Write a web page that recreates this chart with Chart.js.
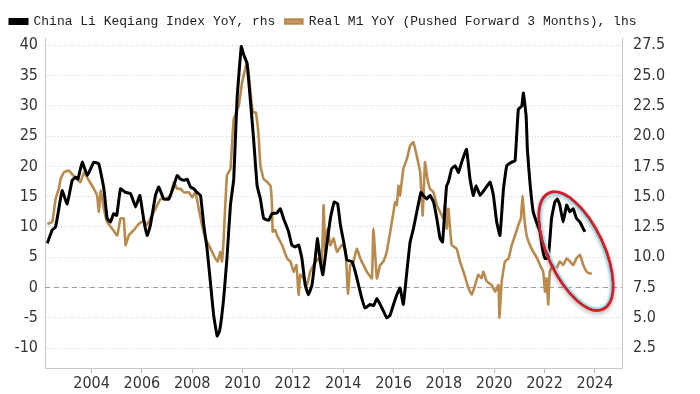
<!DOCTYPE html>
<html>
<head>
<meta charset="utf-8">
<script src="https://cdn.jsdelivr.net/npm/chart.js"></script>
<style>
  html, body { margin: 0; padding: 0; background: #fff; }
  #wrap { width: 700px; height: 394px; position: relative; }
</style>
</head>
<body>
<div id="wrap"><canvas id="myChart"></canvas></div>
<script>
// Li Keqiang index (rhs)
const liDates = [2002.24,2002.44,2002.57,2002.70,2002.83,2003.03,2003.23,2003.37,2003.46,2003.63,2003.83,2004.09,2004.29,2004.49,2004.62,2004.75,2004.88,2005.00,2005.15,2005.35,2005.55,2005.75,2005.92,2006.08,2006.21,2006.34,2006.54,2006.67,2006.87,2007.07,2007.27,2007.40,2007.53,2007.67,2007.80,2007.93,2008.06,2008.19,2008.33,2008.46,2008.59,2008.72,2008.85,2008.99,2009.09,2009.25,2009.38,2009.52,2009.65,2009.78,2009.95,2010.04,2010.18,2010.31,2010.44,2010.58,2010.71,2010.84,2011.04,2011.17,2011.37,2011.50,2011.63,2011.83,2011.96,2012.10,2012.23,2012.36,2012.49,2012.62,2012.76,2012.89,2012.98,2013.09,2013.19,2013.33,2013.49,2013.64,2013.78,2013.89,2014.02,2014.15,2014.35,2014.48,2014.61,2014.74,2014.87,2015.07,2015.21,2015.34,2015.47,2015.60,2015.73,2015.86,2016.00,2016.13,2016.26,2016.39,2016.53,2016.66,2016.79,2016.95,2017.09,2017.19,2017.32,2017.45,2017.59,2017.72,2017.85,2017.95,2018.05,2018.11,2018.18,2018.31,2018.45,2018.58,2018.71,2018.90,2019.04,2019.17,2019.28,2019.44,2019.64,2019.84,2019.97,2020.10,2020.23,2020.37,2020.50,2020.70,2020.83,2020.96,2021.10,2021.16,2021.27,2021.32,2021.42,2021.55,2021.68,2021.82,2021.92,2022.02,2022.15,2022.28,2022.41,2022.51,2022.61,2022.74,2022.88,2023.01,2023.14,2023.27,2023.41,2023.54,2023.61]
const liValues = [11.15,12.25,12.5,14,15.5,14.4,16.35,16.6,16.45,17.85,16.75,17.85,17.7,15.65,13.2,12.9,13.6,13.45,15.65,15.35,15.25,14.15,15.1,13,11.8,12.65,15.1,15.8,14.8,14.8,15.9,16.75,16.45,16.35,16.45,15.8,15.65,15.35,15.1,12.65,10.7,8.0,5.25,3.5,3.9,6.6,9.9,14.3,16.45,23,27.4,26.75,26,23,19.75,15.9,14.8,13.2,13.05,13.6,13.65,14,13.2,12.1,11,10.85,11,9.9,7.7,6.9,7.7,9.9,11.55,9.65,8.55,10.7,13.2,14.55,14.4,12.65,11.25,9.75,9.65,8.8,7.7,6.6,5.8,6.1,6.0,6.6,6.1,5.55,5.0,5.2,6.1,6.9,7.45,6.1,8.8,11.25,12.35,14,15.35,15.1,14.8,15.1,14.55,13.2,11.55,11.25,14.3,15.9,16.2,17.3,17.55,17,17.85,18.9,16.45,15.1,15.9,15.1,15.65,16.2,15.1,12.9,11.8,15.65,17.55,17.85,17.95,22.2,22.5,23.55,21.65,18.9,16.2,13.75,12.9,12.1,10.7,9.9,9.9,13.2,14.55,14.8,14.3,12.9,14.3,13.75,14,13.2,12.9,12.35,12.1]

// Real M1 pushed forward 3 months (lhs)
const m1Dates = [2002.24,2002.44,2002.57,2002.70,2002.77,2002.90,2003.10,2003.23,2003.43,2003.56,2003.70,2003.89,2004.09,2004.22,2004.29,2004.36,2004.49,2004.62,2004.82,2005.02,2005.15,2005.28,2005.35,2005.48,2005.68,2005.88,2006.08,2006.20,2006.34,2006.54,2006.74,2006.94,2007.14,2007.27,2007.40,2007.53,2007.67,2007.87,2008.00,2008.13,2008.26,2008.39,2008.52,2008.66,2008.79,2008.92,2009.01,2009.12,2009.18,2009.25,2009.38,2009.52,2009.65,2009.85,2009.98,2010.04,2010.18,2010.27,2010.37,2010.44,2010.53,2010.64,2010.71,2010.84,2010.98,2011.11,2011.17,2011.20,2011.30,2011.37,2011.57,2011.77,2011.90,2012.03,2012.14,2012.23,2012.29,2012.43,2012.56,2012.69,2012.82,2013.02,2013.15,2013.22,2013.29,2013.38,2013.49,2013.62,2013.75,2013.95,2014.09,2014.19,2014.28,2014.41,2014.54,2014.68,2014.81,2014.94,2015.14,2015.20,2015.34,2015.47,2015.60,2015.73,2015.87,2016.00,2016.07,2016.13,2016.20,2016.26,2016.39,2016.53,2016.66,2016.79,2016.92,2017.06,2017.16,2017.25,2017.35,2017.45,2017.59,2017.72,2017.85,2017.98,2018.05,2018.11,2018.18,2018.31,2018.51,2018.64,2018.78,2018.97,2019.11,2019.24,2019.37,2019.50,2019.57,2019.70,2019.90,2020.04,2020.17,2020.21,2020.30,2020.43,2020.57,2020.70,2020.83,2020.96,2021.06,2021.13,2021.20,2021.29,2021.42,2021.55,2021.71,2021.82,2021.95,2022.02,2022.08,2022.15,2022.21,2022.34,2022.48,2022.61,2022.74,2022.88,2023.01,2023.14,2023.27,2023.41,2023.54,2023.68,2023.81,2023.88]
const m1Values = [10.5,10.8,14.6,16.3,17.9,19.0,19.3,18.7,17.9,17.4,19.0,17.7,16.3,15.2,12.5,16,13,10.8,9.7,8.6,11.4,11.4,7.0,8.6,9.5,10.5,11.0,10.3,11.4,13.0,14.6,14.6,15.2,17.4,16.3,16.3,15.7,15.7,14.9,15.7,13.0,10.3,8.1,7.0,5.9,4.8,4.3,5.9,4.3,8.1,18.5,19.6,27.8,30,33.8,34.9,37.3,34.3,30,28.9,28.9,25,20.1,17.9,17.4,16.8,13.6,9.2,9.5,8.6,7.0,4.8,4.3,2.6,3.7,-1.2,2.1,1.5,0.4,2.6,3.7,4.8,3.7,13.6,5.9,9.7,7.0,8.1,5.9,7.0,6.4,-1.0,3.7,4.3,6.4,4.8,3.7,2.6,1.5,9.7,1.5,3.7,4.3,5.9,9.2,12.5,14.1,13.6,16.8,15.2,19.6,21.2,23.4,24,21.8,19,11.9,20.7,17.9,16.3,15.7,13.6,12.5,11.4,13.6,9.7,13,7.0,6.4,4.3,2.6,0,-1.2,0.4,2.1,1.5,2.6,1.0,0.4,-0.7,0.4,-5.0,1.0,4.3,4.8,7.0,8.6,10.3,11.4,15.2,11.4,8.6,7.0,5.9,4.8,3.7,2.6,-0.7,1.5,-2.8,2.6,3.7,3.2,4.3,3.7,4.8,4.3,3.7,4.8,5.4,3.7,2.6,2.3,2.3]

const yearTicks = [2004,2006,2008,2010,2012,2014,2016,2018,2020,2022,2024]
const lhsTicks = [-10,-5,0,5,10,15,20,25,30,35,40]
const rhsTicks = [2.5,5,7.5,10,12.5,15,17.5,20,22.5,25,27.5]

const tickFont = {family: "'Liberation Sans Narrow', 'DejaVu Sans Condensed', 'Arial Narrow', sans-serif", size: 16}

// zero line + the red circle over the last two years
const extras = {
  id: 'extras',
  beforeDatasetsDraw(chart){
    const {ctx, chartArea, scales} = chart
    const y0 = scales.y.getPixelForValue(0)
    ctx.save()
    ctx.strokeStyle = '#9a9a9a'
    ctx.lineWidth = 1
    ctx.setLineDash([5,4])
    ctx.beginPath()
    ctx.moveTo(chartArea.left, y0)
    ctx.lineTo(chartArea.right, y0)
    ctx.stroke()
    ctx.restore()
  },
  afterDatasetsDraw(chart){
    const {ctx, scales} = chart
    const cx = scales.x.getPixelForValue(2023.25)
    const cy = scales.y.getPixelForValue(6.0)
    const rot = 65 * Math.PI / 180
    ctx.save()
    ctx.shadowColor = 'rgba(0,0,0,0.35)'
    ctx.shadowBlur = 4
    ctx.shadowOffsetY = 2
    ctx.strokeStyle = '#d11f2a'
    ctx.lineWidth = 3
    ctx.beginPath()
    ctx.ellipse(cx, cy, 64, 28, rot, 0, Math.PI * 2)
    ctx.stroke()
    ctx.shadowColor = 'transparent'
    ctx.strokeStyle = '#8fe6f2'
    ctx.lineWidth = 1.5
    ctx.beginPath()
    ctx.ellipse(cx, cy, 61.5, 25.5, rot, 0, Math.PI * 2)
    ctx.stroke()
    ctx.restore()
  }
}

new Chart('myChart', {
  type: 'line',
  data: {
    datasets: [{
      label: 'China Li Keqiang Index YoY, rhs',
      data: liDates.map((d, i) => ({x: d, y: liValues[i]})),
      borderColor: '#000',
      backgroundColor: '#000',
      borderWidth: 3,
      pointRadius: 0,
      tension: 0.1,
      yAxisID: 'y1'
    }, {
      label: 'Real M1 YoY (Pushed Forward 3 Months), lhs',
      data: m1Dates.map((d, i) => ({x: d, y: m1Values[i]})),
      borderColor: '#b98a4c',
      backgroundColor: '#c9a374',
      borderWidth: 2.6,
      pointRadius: 0,
      tension: 0.1,
      yAxisID: 'y'
    }]
  },
  options: {
    responsive: true,
    maintainAspectRatio: false,
    animation: false,
    layout: {padding: {top: 5, right: 0, bottom: 0, left: 0}},
    plugins: {
      legend: {
        align: 'start',
        labels: {
          boxWidth: 17,
          boxHeight: 4,
          padding: 10,
          color: '#222',
          font: {family: "'Liberation Mono', 'DejaVu Sans Mono', monospace", size: 13}
        }
      },
      tooltip: {enabled: false}
    },
    scales: {
      x: {
        type: 'linear',
        min: 2002.15,
        max: 2025.08,
        afterBuildTicks: s => { s.ticks = yearTicks.map(v => ({value: v})) },
        afterFit: s => { s.height = 26 },
        grid: {drawOnChartArea: false, drawTicks: true, tickLength: 5, color: '#bbb'},
        border: {display: true, color: '#c8c8c8'},
        ticks: {color: '#333', font: tickFont, padding: 1, maxRotation: 0, callback: v => String(v)}
      },
      y: {
        position: 'left',
        min: -13.3,
        max: 41.2,
        afterBuildTicks: s => { s.ticks = lhsTicks.map(v => ({value: v})) },
        afterFit: s => { s.width = 45 },
        grid: {color: '#d0d0d0', drawTicks: false},
        border: {display: true, color: '#c8c8c8', dash: [1, 2]},
        ticks: {color: '#333', font: tickFont, padding: 7}
      },
      y1: {
        position: 'right',
        min: 0.85,
        max: 28.1,
        afterBuildTicks: s => { s.ticks = rhsTicks.map(v => ({value: v})) },
        afterFit: s => { s.width = 78 },
        grid: {drawOnChartArea: false, drawTicks: false},
        border: {display: true, color: '#c8c8c8'},
        ticks: {color: '#333', font: tickFont, padding: 11, callback: v => v.toFixed(1)}
      }
    }
  },
  plugins: [extras]
})
</script>
</body>
</html>
